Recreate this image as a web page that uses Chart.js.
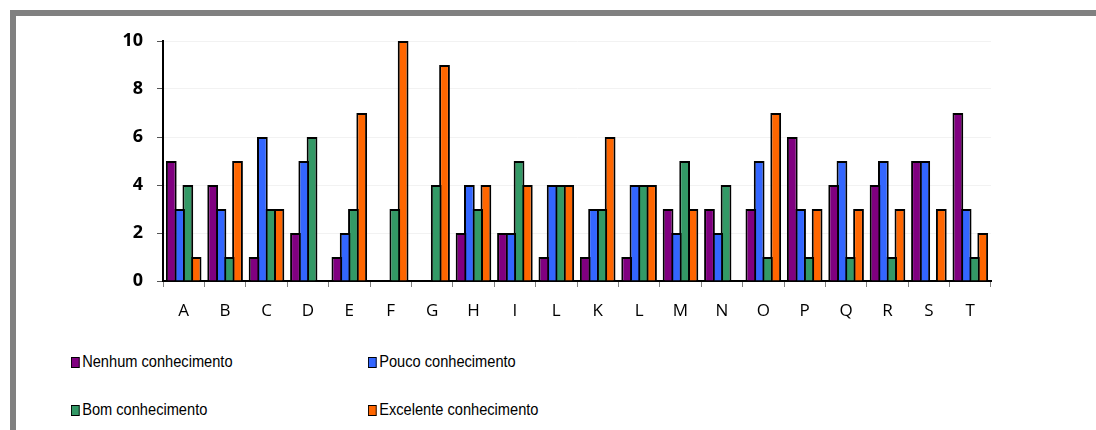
<!DOCTYPE html>
<html>
<head>
<meta charset="UTF-8">
<title>Conhecimento</title>
<script src="https://cdn.jsdelivr.net/npm/chart.js"></script>
<style>
    html, body { margin: 0; padding: 0; background: #fff; }
    #frame {
        position: absolute; left: 10px; top: 10px; width: 1100px; height: 440px;
        border-left: 6px solid #808080; border-top: 6px solid #808080; box-sizing: border-box;
    }
    #wrap { position: absolute; left: 0; top: 0; width: 1096px; height: 330px; }
    .leg { position: absolute; font-family: "Liberation Sans", Arial, sans-serif; font-size: 17px; color: #000;
           white-space: nowrap; transform: scaleX(0.86); transform-origin: left center; }
    .leg span.box { display: inline-block; width: 8px; height: 9px; border: 1.5px solid #000; margin-right: 3px; vertical-align: -1px; }
</style>
</head>
<body>
<div id="frame"></div>
<div id="wrap"><canvas id="chart" width="1096" height="330"></canvas></div>
<div id="legend"></div>
<script>
    // categorias e valores
    var categorias = ["A", "B", "C", "D", "E", "F", "G", "H", "I", "L", "K", "L", "M", "N", "O", "P", "Q", "R", "S", "T"];
    var nenhum    = [5, 4, 1, 2, 1, 0, 0, 2, 2, 1, 1, 1, 3, 3, 3, 6, 4, 4, 5, 7];
    var pouco     = [3, 3, 6, 5, 2, 0, 0, 4, 2, 4, 3, 4, 2, 2, 5, 3, 5, 5, 5, 3];
    var bom       = [4, 1, 3, 6, 3, 3, 4, 3, 5, 4, 3, 4, 5, 4, 1, 1, 1, 1, 0, 1];
    var excelente = [1, 5, 3, 0, 7, 10, 9, 4, 4, 4, 6, 4, 3, 0, 7, 3, 3, 3, 3, 2];
    var nomes = ["Nenhum conhecimento", "Pouco conhecimento", "Bom conhecimento", "Excelente conhecimento"];
    var cores = ["#800080", "#3366ff", "#339966", "#ff6600"];
    var valoresY = [0, 2, 4, 6, 8, 10];

    var series = [nenhum, pouco, bom, excelente];
    var datasets = series.map(function (d, i) {
        return {
            label: nomes[i],
            data: d,
            backgroundColor: cores[i],
            borderColor: "#000",
            borderWidth: 2,
            categoryPercentage: 0.8,
            barPercentage: 1.3
        };
    });

    new Chart(document.getElementById("chart"), {
        type: "bar",
        data: { labels: categorias, datasets: datasets },
        options: {
            responsive: false,
            animation: false,
            layout: { padding: { top: 41, right: 105, left: 0, bottom: 0 } },
            plugins: { legend: { display: false }, tooltip: { enabled: false } },
            scales: {
                x: {
                    grid: { drawOnChartArea: false, drawTicks: true, tickLength: 6, color: "#808080", lineWidth: 1 },
                    border: { color: "#000", width: 2 },
                    ticks: { color: "#000", padding: 14, font: { family: "Open Sans", size: 17 } },
                    afterFit: function (s) { s.height = 49; }
                },
                y: {
                    min: 0, max: 10,
                    afterBuildTicks: function (s) { s.ticks = valoresY.map(function (v) { return { value: v }; }); },
                    grid: { color: "#f2f2f2", drawTicks: true, tickLength: 6, tickColor: "#555" },
                    border: { color: "#000", width: 2 },
                    ticks: { color: "#000", padding: 14, font: { family: "Open Sans", size: 18, weight: "bold" } },
                    afterFit: function (s) { s.width = 163; }
                }
            }
        }
    });

    // legenda em duas colunas
    var pos = [[71, 352], [368, 352], [71, 400], [368, 400]];
    var leg = document.getElementById("legend");
    nomes.forEach(function (n, i) {
        var el = document.createElement("div");
        el.className = "leg";
        el.style.left = pos[i][0] + "px";
        el.style.top = pos[i][1] + "px";
        el.innerHTML = '<span class="box" style="background:' + cores[i] + '"></span>' + n;
        leg.appendChild(el);
    });
</script>
</body>
</html>
